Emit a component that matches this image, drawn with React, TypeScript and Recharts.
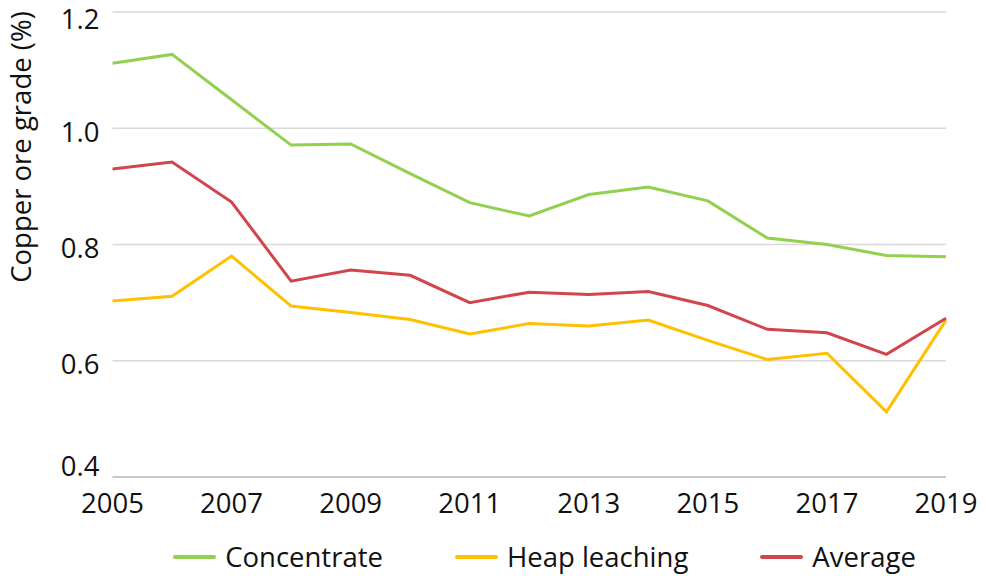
import React from "react";
import { LineChart, Line, XAxis, YAxis, CartesianGrid, Legend } from "recharts";

const years = [2005, 2006, 2007, 2008, 2009, 2010, 2011, 2012, 2013, 2014, 2015, 2016, 2017, 2018, 2019];
const concentrate = [1.112, 1.127, 1.049, 0.971, 0.973, 0.922, 0.872, 0.849, 0.886, 0.899, 0.875, 0.811, 0.800, 0.781, 0.779];
const heapLeaching = [0.703, 0.711, 0.780, 0.694, 0.683, 0.671, 0.646, 0.664, 0.660, 0.670, 0.635, 0.602, 0.613, 0.512, 0.670];
const average = [0.930, 0.942, 0.873, 0.737, 0.756, 0.747, 0.700, 0.718, 0.714, 0.719, 0.695, 0.654, 0.648, 0.611, 0.673];
const xTicks = [2005, 2007, 2009, 2011, 2013, 2015, 2017, 2019];
const yTicks = [0.4, 0.6, 0.8, 1.0, 1.2];
const seriesNames = ["Concentrate", "Heap leaching", "Average"];
const colors = ["#92D050", "#FFC000", "#D0464C"];

const data = years.map((y, i) => ({
  year: y,
  concentrate: concentrate[i],
  heap: heapLeaching[i],
  average: average[i],
}));

const FONT = "'Open Sans', 'Noto Sans', sans-serif";

const YTick = (props: any) => {
  const { x, y, payload } = props;
  const shift = payload.value === 0.4 ? -12 : payload.value === 1.2 ? 6 : 3;
  return (
    <text x={x} y={y + shift} textAnchor="end" dominantBaseline="central" fontSize={27.5} fill="#111" fontFamily={FONT}>
      {Number(payload.value).toFixed(1)}
    </text>
  );
};

const XTick = (props: any) => {
  const { x, y, payload } = props;
  return (
    <text x={x} y={y + 25} textAnchor="middle" dominantBaseline="central" fontSize={27.5} fill="#111" fontFamily={FONT}>
      {payload.value}
    </text>
  );
};

const LegendContent = () => (
  <div
    style={{
      display: "flex",
      justifyContent: "center",
      alignItems: "center",
      fontFamily: FONT,
      fontSize: 27.5,
      color: "#111",
      paddingLeft: 143,
      paddingTop: 12,
      gap: 72,
      lineHeight: "36px",
    }}
  >
    {seriesNames.map((n, i) => (
      <div key={n} style={{ display: "flex", alignItems: "center" }}>
        <div style={{ width: 43, height: 3.5, background: colors[i], borderRadius: 2, marginRight: 9 }} />
        <span>{n}</span>
      </div>
    ))}
  </div>
);

const YLabel = () => {
  const cx = 20;
  const cy = 147;
  return (
    <text x={cx} y={cy} transform={`rotate(-90, ${cx}, ${cy})`} textAnchor="middle" dominantBaseline="central" fontSize={27.5} fill="#111" fontFamily={FONT}>
      Copper ore grade (%)
    </text>
  );
};

export default function App() {
  return (
    <div style={{ position: "absolute", left: 0, top: 0, width: 986, height: 576, background: "#fff" }}>
      <LineChart width={986} height={576} data={data} margin={{ top: 12, right: 40, left: 0, bottom: 0 }}>
        <CartesianGrid horizontal={true} vertical={false} stroke="#d9d9d9" strokeWidth={1.3} />
        <XAxis
          dataKey="year"
          type="number"
          domain={[2005, 2019]}
          ticks={xTicks}
          tickLine={false}
          tickSize={0}
          tickMargin={0}
          height={50}
          axisLine={{ stroke: "#bfbfbf", strokeWidth: 1.3 }}
          tick={<XTick />}
          interval={0}
        />
        <YAxis
          type="number"
          domain={[0.4, 1.2]}
          ticks={yTicks}
          width={112.5}
          axisLine={false}
          tickLine={false}
          tickSize={0}
          tickMargin={13}
          tick={<YTick />}
          interval={0}
          label={<YLabel />}
        />
        <Legend verticalAlign="bottom" height={49} content={<LegendContent />} />
        <Line type="linear" dataKey="concentrate" name="Concentrate" stroke={colors[0]} strokeWidth={3} dot={false} isAnimationActive={false} />
        <Line type="linear" dataKey="heap" name="Heap leaching" stroke={colors[1]} strokeWidth={3} dot={false} isAnimationActive={false} />
        <Line type="linear" dataKey="average" name="Average" stroke={colors[2]} strokeWidth={3} dot={false} isAnimationActive={false} />
      </LineChart>
    </div>
  );
}
